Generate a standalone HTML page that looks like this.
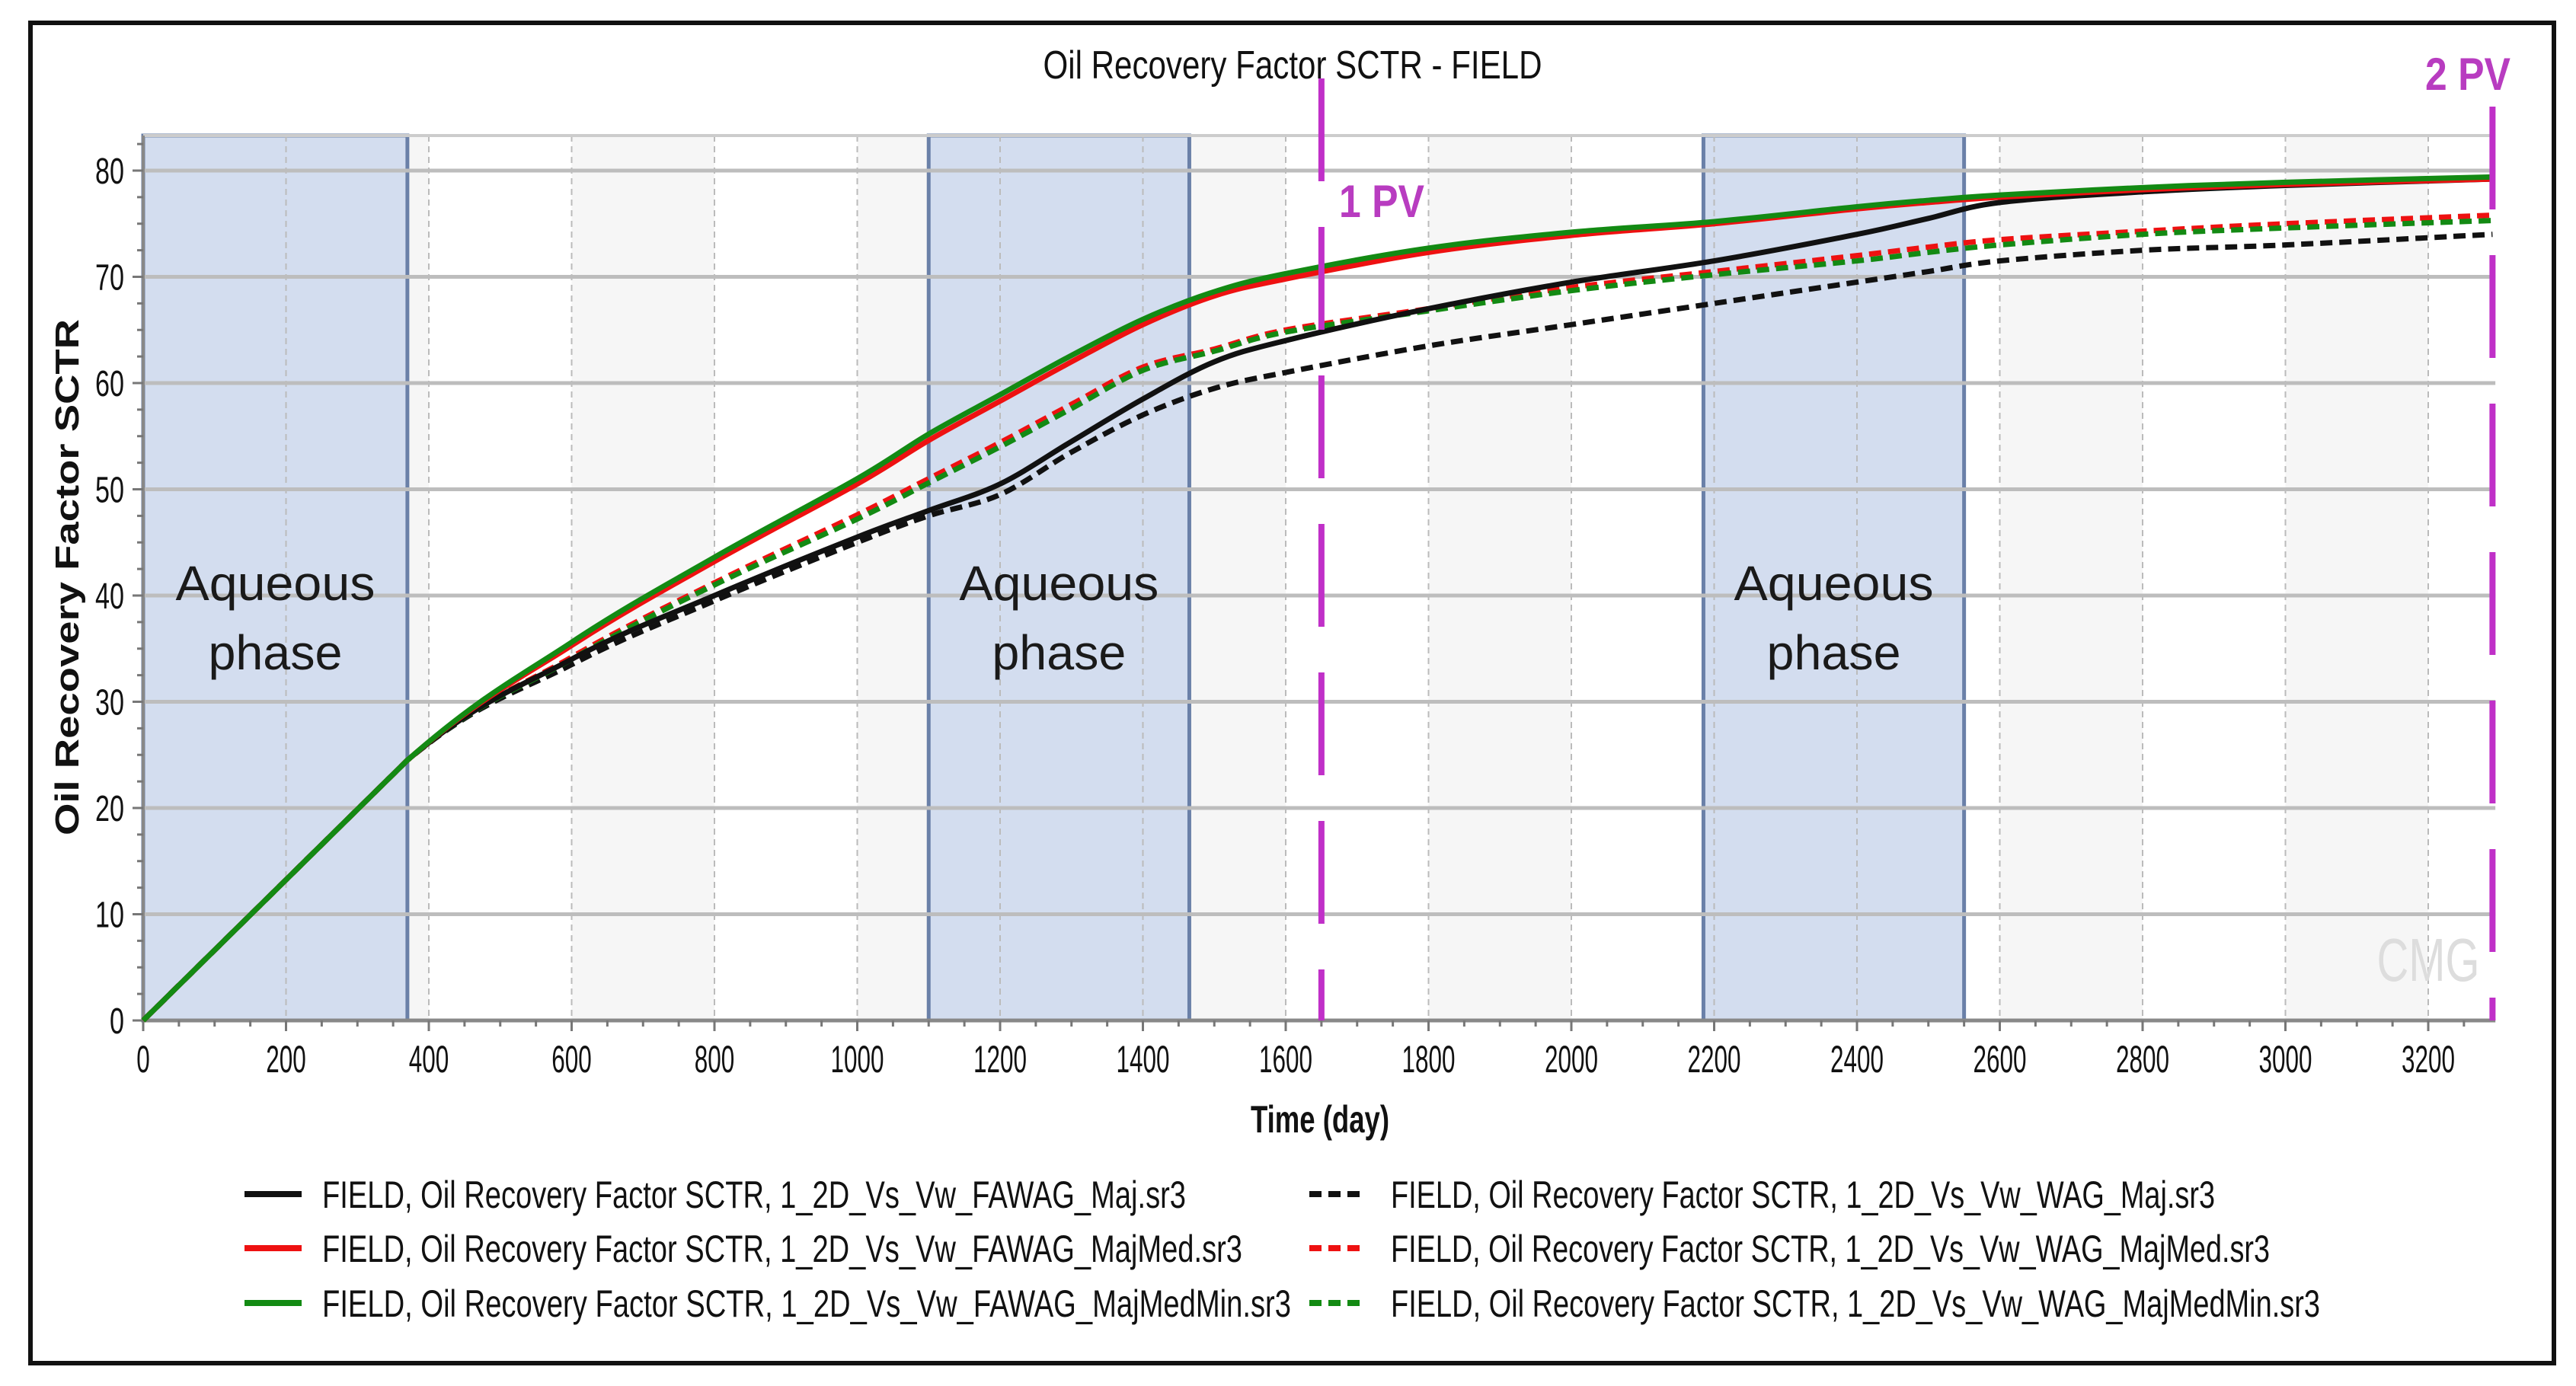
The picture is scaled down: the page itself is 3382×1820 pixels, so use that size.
<!DOCTYPE html>
<html><head><meta charset="utf-8"><style>
html,body{margin:0;padding:0;background:#fff;}
svg{display:block;}
</style></head><body>
<svg id="chart" width="3382" height="1820" viewBox="0 0 3382 1820" xmlns="http://www.w3.org/2000/svg" font-family="Liberation Sans, sans-serif">
<rect x="0" y="0" width="3382" height="1820" fill="#fff"/>
<rect x="40" y="30" width="3313" height="1760" fill="none" stroke="#111" stroke-width="6"/>
<g id="plot"></g>
<text x="1697" y="103" text-anchor="middle" font-size="52" textLength="655" lengthAdjust="spacingAndGlyphs" fill="#111">Oil Recovery Factor SCTR - FIELD</text>
<text x="1733" y="1487" text-anchor="middle" font-size="50" font-weight="bold" textLength="182" lengthAdjust="spacingAndGlyphs" fill="#111">Time (day)</text>
<text transform="translate(103,758) rotate(-90)" text-anchor="middle" font-size="44" font-weight="bold" textLength="678" lengthAdjust="spacingAndGlyphs" fill="#111">Oil Recovery Factor SCTR</text>
<text x="3188" y="1288" text-anchor="middle" font-size="80" fill="#ddd" textLength="135" lengthAdjust="spacingAndGlyphs">CMG</text>
<g id="legend"></g>
</svg>
<script>
const xTicks=[0,200,400,600,800,1000,1200,1400,1600,1800,2000,2200,2400,2600,2800,3000,3200];
const yTicks=[0,10,20,30,40,50,60,70,80];
const aqueousStart=[0,1100,2185];
const aqueousEnd=[370,1465,2550];
const pvDays=[1650,3290];
const pvLabels=["1 PV","2 PV"];
const days=[0,370,600,800,1000,1100,1200,1300,1400,1500,1600,1800,2000,2200,2400,2500,2600,2800,3000,3290];
const fawagMaj=[0,24.5,34,40,45.5,48,50.5,54.5,58.5,62,64,67,69.5,71.5,74,75.5,77,78,78.6,79.2];
const fawagMajMed=[0,24.5,35.3,43.2,50.5,54.6,58.3,62,65.5,68.2,69.8,72.3,73.9,75,76.4,77,77.5,78.2,78.7,79.2];
const fawagMajMedMin=[0,24.5,35.6,43.6,51,55.2,58.9,62.6,66,68.6,70.3,72.7,74.2,75.2,76.6,77.2,77.7,78.4,78.9,79.4];
const wagMaj=[0,24.5,33.5,39.5,45,47.5,49.5,53.5,57,59.5,61,63.5,65.5,67.5,69.5,70.5,71.5,72.5,73,74];
const wagMajMed=[0,24.5,34.2,41.2,47.6,51,54.4,58,61.5,63.2,65,67,69,70.5,72,72.8,73.5,74.3,75,75.8];
const wagMajMedMin=[0,24.5,34,41,47.2,50.6,54,57.6,61.2,63,64.8,66.8,68.7,70.2,71.5,72.3,73,74,74.6,75.3];

const X0=188,PXD=0.9375,Y0=1340,PXV=13.95;
const xS=d=>X0+d*PXD, yS=v=>Y0-v*PXV;
const XMAX=3294,YMAX=83.3;
const NS="http://www.w3.org/2000/svg";
const plot=document.getElementById('plot');
function mk(tag,attrs,parent){const e=document.createElementNS(NS,tag);for(const k in attrs)e.setAttribute(k,attrs[k]);(parent||plot).appendChild(e);return e;}

for(let i=0;i<xTicks.length;i++){
  const a=xTicks[i],b=Math.min(a+200,XMAX);
  if(i%2===1){const r=mk('rect',{x:xS(a),y:yS(YMAX),width:xS(b)-xS(a),height:yS(0)-yS(YMAX),fill:'#f6f6f6'});
  
  }
}
for(let i=0;i<aqueousStart.length;i++){
  const r=mk('rect',{x:xS(aqueousStart[i]),y:yS(YMAX),width:xS(aqueousEnd[i])-xS(aqueousStart[i]),height:yS(0)-yS(YMAX),fill:'#d3ddef',stroke:'#6a80a8','stroke-width':5});
  
  
}
xTicks.forEach(t=>{if(t===0)return;const l=mk('line',{x1:xS(t),x2:xS(t),y1:yS(YMAX),y2:yS(0),stroke:'#bbb','stroke-width':2,'stroke-dasharray':'8 6'});

});
yTicks.forEach(t=>{const l=mk('line',{x1:xS(0),x2:xS(XMAX),y1:yS(t),y2:yS(t),stroke:'#bdbdbd','stroke-width':5});

});
mk('line',{x1:xS(0),x2:xS(XMAX),y1:yS(YMAX),y2:yS(YMAX),stroke:'#ccc','stroke-width':4});
mk('line',{x1:xS(0),x2:xS(XMAX),y1:yS(0),y2:yS(0),stroke:'#888','stroke-width':5});
mk('line',{x1:xS(0),x2:xS(0),y1:yS(0),y2:yS(YMAX),stroke:'#888','stroke-width':4});
for(let d=0;d<=XMAX;d+=50){mk('line',{x1:xS(d),x2:xS(d),y1:yS(0),y2:yS(0)+(d%200===0?14:8),stroke:'#777','stroke-width':3});}
for(let v=0;v<=YMAX;v+=2.5){mk('line',{x1:xS(0)-(v%10===0?14:8),x2:xS(0),y1:yS(v),y2:yS(v),stroke:'#777','stroke-width':3});}
xTicks.forEach(t=>{const s=String(t);const tx=mk('text',{x:xS(t),y:1408,'text-anchor':'middle','font-size':50,textLength:17.5*s.length,lengthAdjust:'spacingAndGlyphs',fill:'#111'});tx.textContent=s;

});
yTicks.forEach(t=>{const s=String(t);const tx=mk('text',{x:163,y:yS(t)+17,'text-anchor':'end','font-size':48,textLength:19*s.length,lengthAdjust:'spacingAndGlyphs',fill:'#111'});tx.textContent=s;

});
for(let i=0;i<aqueousStart.length;i++){
  const cx=xS((aqueousStart[i]+aqueousEnd[i])/2);
  const t1=mk('text',{x:cx,y:788,'text-anchor':'middle','font-size':64,fill:'#1a1a1a',textLength:262,lengthAdjust:'spacingAndGlyphs'});t1.textContent='Aqueous';
  
  
  const t2=mk('text',{x:cx,y:879,'text-anchor':'middle','font-size':64,fill:'#1a1a1a',textLength:176,lengthAdjust:'spacingAndGlyphs'});t2.textContent='phase';
  
  
}
const series=[
 {d:wagMaj,c:'#111',dash:true,n:'series-wag-maj'},
 {d:wagMajMed,c:'#ee1111',dash:true,n:'series-wag-majmed'},
 {d:wagMajMedMin,c:'#138a13',dash:true,n:'series-wag-majmedmin'},
 {d:fawagMaj,c:'#111',dash:false,n:'series-fawag-maj'},
 {d:fawagMajMed,c:'#ee1111',dash:false,n:'series-fawag-majmed'},
 {d:fawagMajMedMin,c:'#138a13',dash:false,n:'series-fawag-majmedmin'}
];
function smoothPath(xs,ys){let p='M'+xs[0]+','+ys[0];for(let i=0;i<xs.length-1;i++){
 const x0=xs[Math.max(i-1,0)],y0=ys[Math.max(i-1,0)],x1=xs[i],y1=ys[i],x2=xs[i+1],y2=ys[i+1],x3=xs[Math.min(i+2,xs.length-1)],y3=ys[Math.min(i+2,xs.length-1)];
 const k=(i===0)?0:1/6, k2=(i+1===1)?0:1/6;
 p+=' C'+(x1+(x2-x0)*k)+','+(y1+(y2-y0)*k)+' '+(x2-(x3-x1)*k2)+','+(y2-(y3-y1)*k2)+' '+x2+','+y2;}return p;}
series.forEach(s=>{
 const xs=days.map(xS),ys=s.d.map(yS);
 const a={d:smoothPath(xs,ys),fill:'none',stroke:s.c,'stroke-width':7,'stroke-linejoin':'round'};
 if(s.dash)a['stroke-dasharray']='16 9';
 const p=mk('path',a);
 
 
});
for(let i=0;i<pvDays.length;i++){
 const l=mk('line',{x1:xS(pvDays[i]),x2:xS(pvDays[i]),y1:i===0?103:140,y2:yS(0),stroke:'#c030c8','stroke-width':8,'stroke-dasharray':'135 60'});
 
 
}
const pv1=mk('text',{x:1758,y:285,'font-size':60,fill:'#b83cc0','font-weight':'bold',textLength:112,lengthAdjust:'spacingAndGlyphs'});pv1.textContent=pvLabels[0];


const pv2=mk('text',{x:3184,y:118,'font-size':60,fill:'#b83cc0','font-weight':'bold',textLength:112,lengthAdjust:'spacingAndGlyphs'});pv2.textContent=pvLabels[1];


const leg=document.getElementById('legend');
const legendText=["FIELD, Oil Recovery Factor SCTR, 1_2D_Vs_Vw_FAWAG_Maj.sr3","FIELD, Oil Recovery Factor SCTR, 1_2D_Vs_Vw_FAWAG_MajMed.sr3","FIELD, Oil Recovery Factor SCTR, 1_2D_Vs_Vw_FAWAG_MajMedMin.sr3","FIELD, Oil Recovery Factor SCTR, 1_2D_Vs_Vw_WAG_Maj.sr3","FIELD, Oil Recovery Factor SCTR, 1_2D_Vs_Vw_WAG_MajMed.sr3","FIELD, Oil Recovery Factor SCTR, 1_2D_Vs_Vw_WAG_MajMedMin.sr3"];
const legLen=[1134,1208,1272,1082,1154,1220];
const legCol=['#111','#ee1111','#138a13','#111','#ee1111','#138a13'];
const rowY=[1568,1639,1711];
for(let i=0;i<6;i++){
 const col=i<3?0:1,row=i%3;
 const lx=col?1719:321,tx=col?1826:423;
 const g=mk('g',{},leg);
 
 
 const la={x1:lx,x2:lx+75,y1:rowY[row],y2:rowY[row],stroke:legCol[i],'stroke-width':8};
 if(col)la['stroke-dasharray']='16 9';
 mk('line',la,g);
 const t=mk('text',{x:tx,y:rowY[row]+18,'font-size':50,fill:'#111',textLength:legLen[i],lengthAdjust:'spacingAndGlyphs'},g);
 t.textContent=legendText[i];
}
</script>
</body></html>
